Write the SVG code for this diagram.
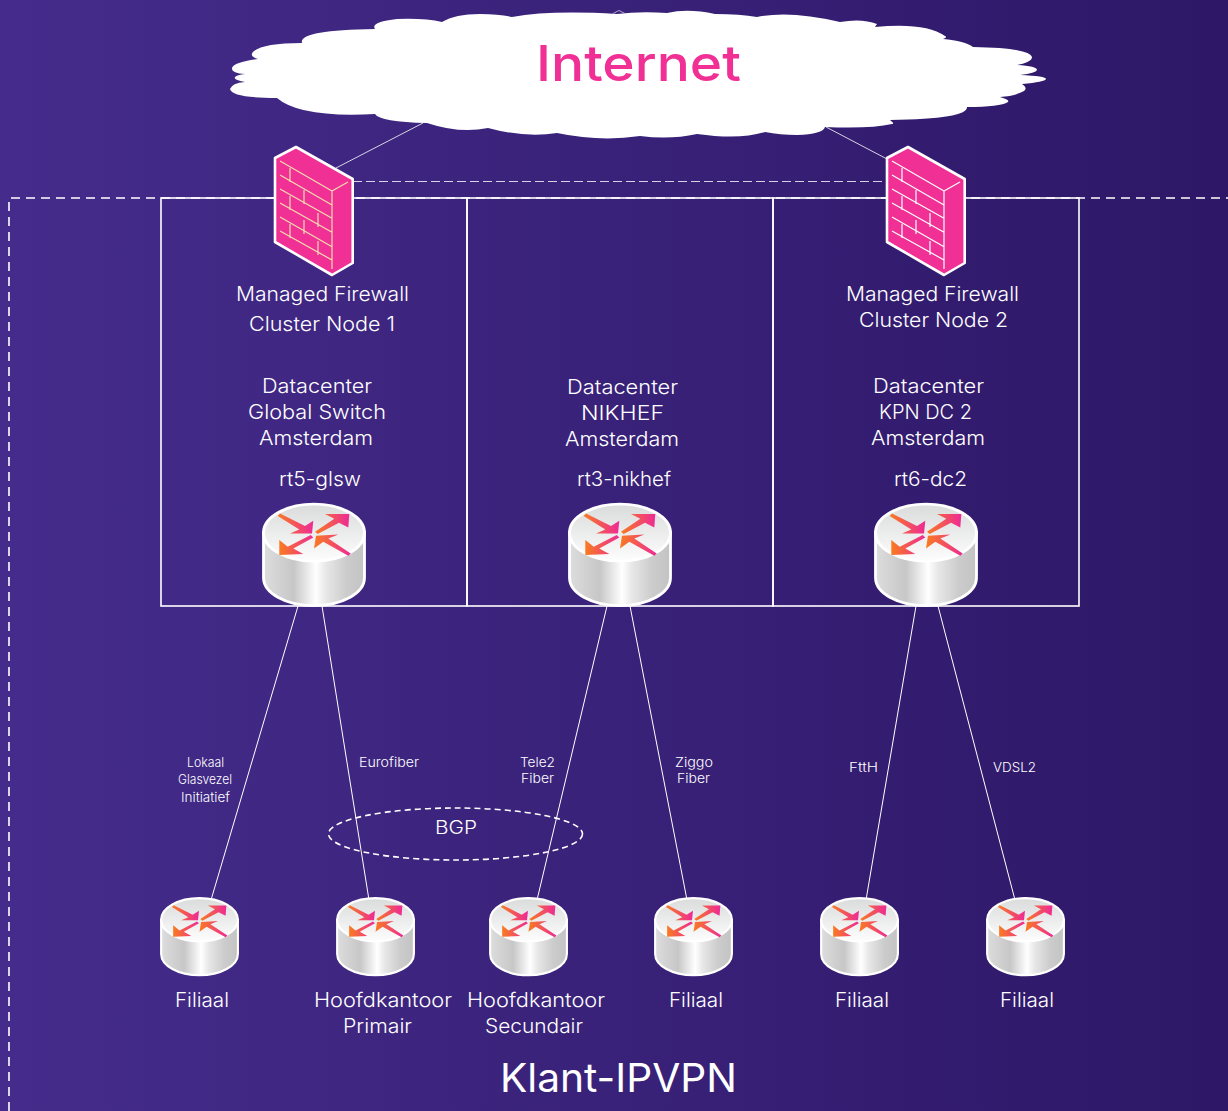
<svg xmlns="http://www.w3.org/2000/svg" width="1228" height="1111" viewBox="0 0 1228 1111">
<style>
text{font-family:"Inter","Liberation Sans",sans-serif;fill:#fff;font-weight:300}
.m{font-size:20px}
.s{font-size:13px}
.frame{fill:none;stroke:#fff;stroke-width:1.6}
.link{stroke:#fff;stroke-width:1;fill:none}
.fw{fill:#f03095;stroke:#fff;stroke-width:2.6;stroke-linejoin:round}
.brick{fill:none;stroke-width:1.2}
</style>
<defs>
<linearGradient id="bg" x1="0" y1="0" x2="1" y2="0"><stop offset="0" stop-color="#452c8c"/><stop offset="1" stop-color="#2d1766"/></linearGradient>
<linearGradient id="side" x1="0" y1="0" x2="1" y2="0"><stop offset="0" stop-color="#dcdddc"/><stop offset=".3" stop-color="#c6c7c6"/><stop offset=".52" stop-color="#fff"/><stop offset=".62" stop-color="#e6e7e6"/><stop offset=".82" stop-color="#cbcccb"/><stop offset="1" stop-color="#c2c3c2"/></linearGradient>
<linearGradient id="top" x1="0" y1="0" x2="0" y2="1"><stop offset="0" stop-color="#dadbdb"/><stop offset="1" stop-color="#fdfdfd"/></linearGradient>
<linearGradient id="a1" x1="0" y1="0" x2="1" y2="0"><stop offset="0" stop-color="#f97b20"/><stop offset="1" stop-color="#ee2a96"/></linearGradient>
<linearGradient id="a2" x1="1" y1="0" x2="0" y2="0"><stop offset="0" stop-color="#ee2a96"/><stop offset="1" stop-color="#f97b20"/></linearGradient>
<symbol id="router" viewBox="0 0 104 105" width="104" height="105" overflow="visible">
<path d="M1.500 30V75A50.500 28 0 0 0 102.500 75V30Z" fill="url(#side)" stroke="#fff" stroke-width="2.800"/>
<ellipse cx="52" cy="30" rx="50.500" ry="28.500" fill="url(#top)" stroke="#fff" stroke-width="2.800"/>
<polygon points="18,10.700 43,23.300 51.300,18 50,30.700 28,30.700 37.300,26.700 15.700,13.300" fill="url(#a1)"/>
<polygon points="87.300,11.300 63,11.300 72.300,16 53,29 55.700,31.300 77,20 86.300,24.700" fill="url(#a1)"/>
<polygon points="17.300,37.300 17.300,52.300 41.300,51.300 31.300,45.700 51.300,34.700 48.700,32.300 25.700,44" fill="url(#a2)"/>
<polygon points="54,33 76.300,31.700 66.300,35.700 88.700,50.700 86.300,53 61.300,39 52,45.700" fill="url(#a2)"/>
</symbol>
<symbol id="firewall" viewBox="0 0 80 130" width="80" height="130" overflow="visible">
<path class="fw" d="M0 11L21 0L77.700 32V116L57 128L0 95Z"/>
<path class="brick" d="M5 14L57 44M5 28L57 58M5 42L57 71.300M5 56L57 85.300M5 70L57 99.700M5 84L57 113M15 21V35M29 43V57M15 49V63M43 66V80M29 73V87M15 77V91M43 94V108M57 44V122M57 44L73 35"/>
</symbol>
</defs>
<rect width="1228" height="1111" fill="url(#bg)"/>
<path d="M9 1111V198H1228" fill="none" stroke="#fff" stroke-width="1.600" stroke-dasharray="9 6"/>
<g id="datacenters">
<rect class="frame" x="161" y="198" width="306" height="408"/>
<rect class="frame" x="467" y="198" width="306" height="408"/>
<rect class="frame" x="773" y="198" width="306" height="408"/>
</g>
<g id="connectors">
<line class="link" x1="336" y1="168" x2="423" y2="123" stroke-opacity=".8"/>
<line class="link" x1="826" y1="127" x2="887" y2="159" stroke-opacity=".8"/>
<line class="link" x1="353" y1="181.500" x2="887" y2="181.500" stroke-dasharray="9 4" stroke-opacity=".8"/>
<line class="link" x1="298" y1="606" x2="211" y2="900"/>
<line class="link" x1="322" y1="606" x2="369" y2="900"/>
<line class="link" x1="607" y1="606" x2="537" y2="900"/>
<line class="link" x1="630" y1="606" x2="687" y2="900"/>
<line class="link" x1="916" y1="606" x2="866" y2="900"/>
<line class="link" x1="938" y1="606" x2="1015" y2="900"/>
</g>
<g id="internet">
<path d="M277 98Q232 98 230 89Q232 83 245 82Q233 80 235 77Q237 75 245 74Q231 73 232 68Q234 62 258 59Q248 56 254 51Q264 43 302 43Q298 30 375 29Q370 22 397 19Q425 18 442 22Q455 14 480 14Q500 14 512 17Q550 10 617 14Q640 11 667 13Q688 8 715 14Q740 14 757 17Q790 10 840 22Q862 18 877 24L875 27Q925 22 945 36Q948 37 943 39Q965 41 973 47Q1030 48 1032 57Q1032 62 1017 65Q1037 66 1037 70Q1036 73 1020 75Q1046 76 1046 79Q1045 82 1022 84Q1028 88 1024 91Q1015 96 1000 97Q1010 100 1008 102Q1000 107 967 107Q968 119 890 120Q895 124 892 124Q870 129 825 127Q823 134 797 135Q780 135 765 132Q740 140 697 134Q670 140 640 136Q600 142 557 133Q525 138 488 128Q460 134 427 123Q380 122 375 114Q300 118 277 98Z" fill="#fff"/>
<path d="M613 13.500L619 10.500L625 13.500" fill="none" stroke="#cfc8e0" stroke-width=".8"/>
<text x="536" y="81" style="font-size:50px;fill:#f03095;font-weight:500" textLength="205" lengthAdjust="spacingAndGlyphs">Internet</text>
</g>
<g id="fw1"><use href="#firewall" x="275" y="147" stroke="#f2dcae"/>
<text class="m" x="236" y="301" textLength="173" lengthAdjust="spacingAndGlyphs">Managed Firewall</text><text class="m" x="249" y="331" textLength="146" lengthAdjust="spacingAndGlyphs">Cluster Node 1</text></g>
<g id="fw2"><use href="#firewall" x="887" y="147" stroke="#fff"/>
<text class="m" x="846" y="301" textLength="173" lengthAdjust="spacingAndGlyphs">Managed Firewall</text><text class="m" x="859" y="327" textLength="149" lengthAdjust="spacingAndGlyphs">Cluster Node 2</text></g>
<g id="rt5"><text class="m" x="262" y="393" textLength="110" lengthAdjust="spacingAndGlyphs">Datacenter</text><text class="m" x="248" y="419" textLength="138" lengthAdjust="spacingAndGlyphs">Global Switch</text><text class="m" x="259" y="445" textLength="114" lengthAdjust="spacingAndGlyphs">Amsterdam</text><text class="m" x="279" y="486" textLength="82" lengthAdjust="spacingAndGlyphs">rt5-glsw</text><use href="#router" x="262" y="502.700"/></g>
<g id="rt3"><text class="m" x="567" y="394" textLength="111" lengthAdjust="spacingAndGlyphs">Datacenter</text><text class="m" x="581" y="420" textLength="83" lengthAdjust="spacingAndGlyphs">NIKHEF</text><text class="m" x="565" y="446" textLength="114" lengthAdjust="spacingAndGlyphs">Amsterdam</text><text class="m" x="577" y="486" textLength="94" lengthAdjust="spacingAndGlyphs">rt3-nikhef</text><use href="#router" x="568" y="502.700"/></g>
<g id="rt6"><text class="m" x="873" y="393" textLength="111" lengthAdjust="spacingAndGlyphs">Datacenter</text><text class="m" x="879" y="419" textLength="93" lengthAdjust="spacingAndGlyphs">KPN DC 2</text><text class="m" x="871" y="445" textLength="114" lengthAdjust="spacingAndGlyphs">Amsterdam</text><text class="m" x="894" y="486" textLength="73" lengthAdjust="spacingAndGlyphs">rt6-dc2</text><use href="#router" x="874" y="502.700"/></g>
<g id="site1"><use href="#router" transform="translate(160 897) scale(.76)"/><text class="m" x="175" y="1007" textLength="54" lengthAdjust="spacingAndGlyphs">Filiaal</text></g>
<g id="site2"><use href="#router" transform="translate(336 897) scale(.76)"/><text class="m" x="314" y="1007" textLength="138" lengthAdjust="spacingAndGlyphs">Hoofdkantoor</text><text class="m" x="343" y="1033" textLength="69" lengthAdjust="spacingAndGlyphs">Primair</text></g>
<g id="site3"><use href="#router" transform="translate(489 897) scale(.76)"/><text class="m" x="467" y="1007" textLength="138" lengthAdjust="spacingAndGlyphs">Hoofdkantoor</text><text class="m" x="485" y="1033" textLength="98" lengthAdjust="spacingAndGlyphs">Secundair</text></g>
<g id="site4"><use href="#router" transform="translate(654 897) scale(.76)"/><text class="m" x="669" y="1007" textLength="54" lengthAdjust="spacingAndGlyphs">Filiaal</text></g>
<g id="site5"><use href="#router" transform="translate(820 897) scale(.76)"/><text class="m" x="835" y="1007" textLength="54" lengthAdjust="spacingAndGlyphs">Filiaal</text></g>
<g id="site6"><use href="#router" transform="translate(986 897) scale(.76)"/><text class="m" x="1000" y="1007" textLength="54" lengthAdjust="spacingAndGlyphs">Filiaal</text></g>
<g id="labels">
<text class="s" x="187" y="767" textLength="37" lengthAdjust="spacingAndGlyphs">Lokaal</text><text class="s" x="178" y="784" textLength="54" lengthAdjust="spacingAndGlyphs">Glasvezel</text><text class="s" x="181" y="802" textLength="49" lengthAdjust="spacingAndGlyphs">Initiatief</text>
<text class="s" x="359" y="767" textLength="60" lengthAdjust="spacingAndGlyphs">Eurofiber</text>
<text class="s" x="520" y="767" textLength="35" lengthAdjust="spacingAndGlyphs">Tele2</text><text class="s" x="521" y="783" textLength="33" lengthAdjust="spacingAndGlyphs">Fiber</text>
<text class="s" x="675" y="767" textLength="38" lengthAdjust="spacingAndGlyphs">Ziggo</text><text class="s" x="677" y="783" textLength="33" lengthAdjust="spacingAndGlyphs">Fiber</text>
<text class="s" x="849" y="772" textLength="29" lengthAdjust="spacingAndGlyphs">FttH</text><text class="s" x="993" y="772" textLength="43" lengthAdjust="spacingAndGlyphs">VDSL2</text>
</g>
<g id="bgp"><ellipse cx="455.500" cy="834" rx="127" ry="26" fill="none" stroke="#fff" stroke-width="1.600" stroke-dasharray="6 4"/><text x="435" y="834" style="font-size:18px" textLength="42" lengthAdjust="spacingAndGlyphs">BGP</text></g>
<text id="title" x="500" y="1092" style="font-size:40px;font-weight:400" textLength="237" lengthAdjust="spacingAndGlyphs">Klant-IPVPN</text>
</svg>
